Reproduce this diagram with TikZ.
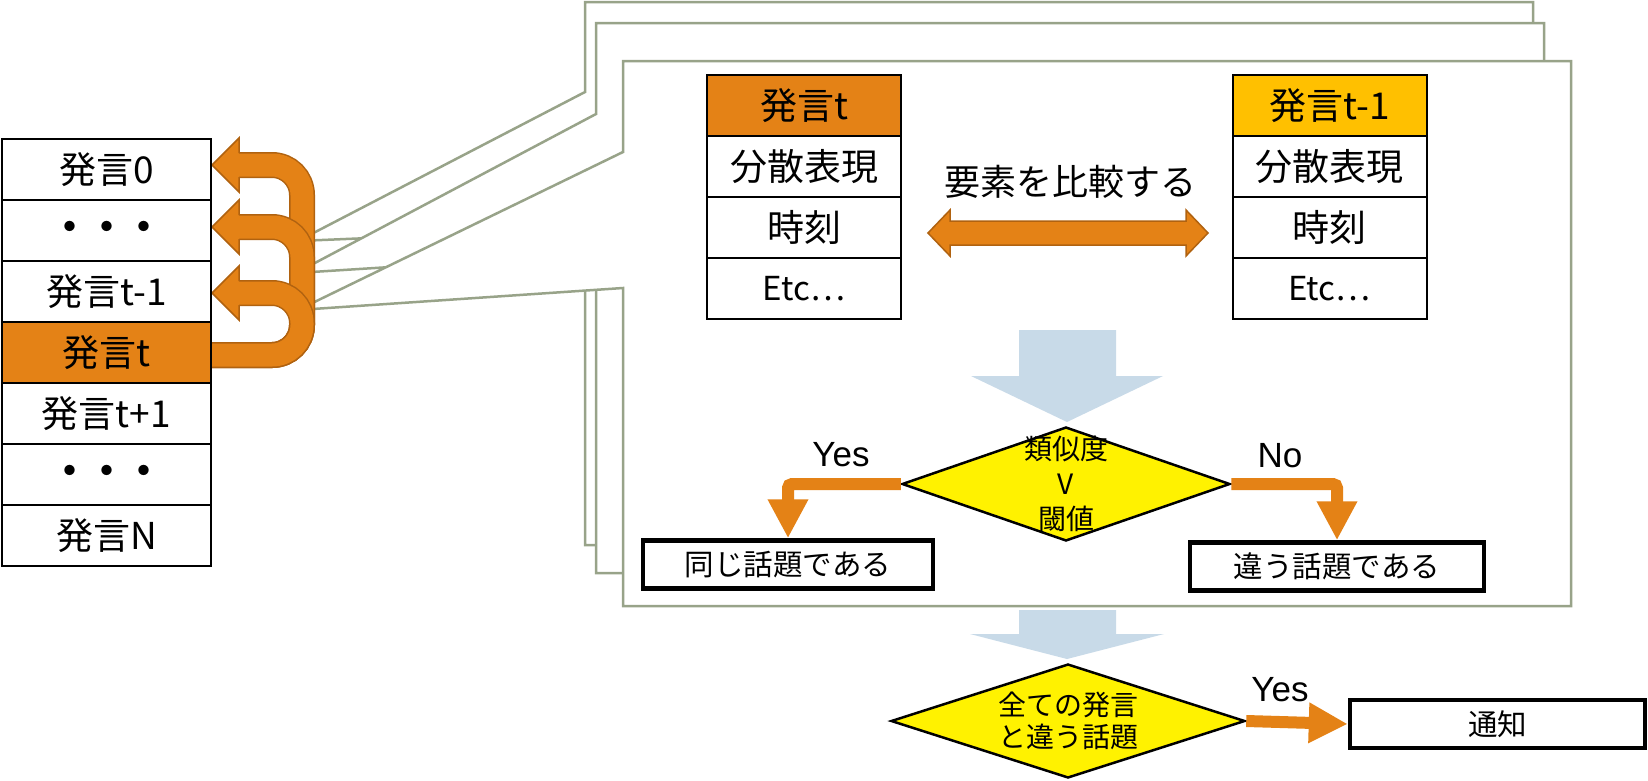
\documentclass[tikz,border=0pt]{standalone}
\usepackage{fontspec}
\usepackage{xcolor}
\usepackage{tikz}
\usetikzlibrary{arrows.meta, shapes.geometric}
\newfontfamily\gothic{Noto Sans CJK JP}
\newfontfamily\arialfont{Liberation Sans}
\definecolor{UttOrange}{RGB}{228,130,22}
\definecolor{UttOrangeDark}{RGB}{176,98,16}
\definecolor{UttGold}{RGB}{255,192,0}
\definecolor{FlowBlue}{RGB}{200,218,232}
\definecolor{FrameGreen}{RGB}{152,163,137}

\begin{document}
\begin{tikzpicture}[
    x=1pt, y=-1pt,
    cell/.style={rectangle, draw, line width=2pt, minimum width=209pt, minimum height=61pt, inner sep=0pt, font=\gothic\fontsize{37}{42}\selectfont},
    field/.style={cell, minimum width=194pt},
    zoomframe/.style={draw=FrameGreen, fill=white, line width=2.5pt, line join=miter},
    uturn/.style={draw=UttOrangeDark, line width=1.5pt, double=UttOrange, double distance=23pt, rounded corners=30pt},
    uhead/.style={draw=UttOrangeDark, fill=UttOrange, line width=1.5pt, line join=miter},
    decision/.style={diamond, draw, line width=2.5pt, fill=yellow, inner sep=0pt},
    result/.style={rectangle, draw, line width=4.5pt, inner sep=0pt, minimum height=48pt, font=\gothic\fontsize{29.5}{34}\selectfont},
    flowarrow/.style={draw=UttOrange, line width=12pt, rounded corners=4pt, -{Triangle[width=38pt, length=39pt]}},
    yesno/.style={font=\arialfont\fontsize{35}{40}\selectfont},
    bigarrow/.style={fill=FlowBlue}
]
    \useasboundingbox (0,0) rectangle (1648,780);
    % stacked frames, back to front
    \foreach \l/\t/\r/\b/\pa/\pb/\tx/\ty in {585/2/1533/545/92/229/298/241, 596/23/1544/573/114/254/296/273, 623/61/1571/606/152/288/298/310} {
        \draw[zoomframe] (\l,\t) -- (\r,\t) -- (\r,\b) -- (\l,\b) -- (\l,\pb) -- (\tx,\ty) -- (\l,\pa) -- cycle;
    }
    % U-turn arrows from the current utterance
    \foreach \y in {165, 227, 293} {
        \draw[uturn] (236,\y) -- (302,\y) -- (302,355) -- (211,355);
        \filldraw[uhead] (239,\y-12) -- (239,\y-27) -- (212,\y) -- (239,\y+27) -- (239,\y+12);
    }
    % utterance list
    \foreach \nm/\lbl/\clr [count=\i from 0] in {utt0/発言0/white, uttgap1/{\bfseries ・・・}/white, uttprev/発言t-1/white, uttcur/発言t/UttOrange, uttnext/発言t+1/white, uttgap2/{\bfseries ・・・}/white, uttN/発言N/white} {
        \node[cell, fill=\clr] (\nm) at (106.5,{169.5+61*\i}) {\lbl};
    }
    % compared records
    \foreach \nm/\lbl/\clr [count=\i from 0] in {curhead/発言t/UttOrange, curvec/分散表現/white, curtime/時刻/white, curetc/{\fontsize{33}{40}\selectfont Etc…}/white} {
        \node[field, fill=\clr] (\nm) at (804,{105.5+61*\i}) {\lbl};
    }
    \foreach \nm/\lbl/\clr [count=\i from 0] in {prevhead/発言t-1/UttGold, prevvec/分散表現/white, prevtime/時刻/white, prevetc/{\fontsize{33}{40}\selectfont Etc…}/white} {
        \node[field, fill=\clr] (\nm) at (1329.5,{105.5+61*\i}) {\lbl};
    }
    \filldraw[uhead] (928,233) -- (950,210) -- (950,221) -- (1186,221) -- (1186,210) -- (1208,233) -- (1186,256) -- (1186,245) -- (950,245) -- (950,256) -- cycle;
    \node[font=\gothic\fontsize{36}{40}\selectfont] (cmplabel) at (1070,182) {要素を比較する};
    \fill[bigarrow] (1019,330) -- (1116,330) -- (1116,376) -- (1163,376) -- (1067,422) -- (971,376) -- (1019,376) -- cycle;
    % threshold test
    \node[decision, minimum width=328pt, minimum height=114pt] (sim) at (1066,484) {};
    \node[font=\gothic\fontsize{28}{35}\selectfont, align=center] (simtext) at (sim) {類似度\\V\\閾値};
    \node[result, minimum width=290pt] (same) at (788,564.5) {同じ話題である};
    \node[result, minimum width=294pt] (diff) at (1337,566.5) {違う話題である};
    \draw[flowarrow] (sim.west) -| (same.north);
    \draw[flowarrow] (sim.east) -| (diff.north);
    \node[yesno] (yes1) at (841,455) {Yes};
    \node[yesno] (no1) at (1280,456) {No};
    \fill[bigarrow] (1019,610) -- (1116,610) -- (1116,634) -- (1164,634) -- (1067,659) -- (970,634) -- (1019,634) -- cycle;
    % final check
    \node[decision, minimum width=354pt, minimum height=114pt] (all) at (1068,721) {};
    \node[font=\gothic\fontsize{28}{32}\selectfont, align=center] (alltext) at (all) {全ての発言\\と違う話題};
    \node[result, minimum width=295pt] (notify) at (1497.5,724) {通知};
    \draw[flowarrow] (all.east) -- (notify.west);
    \node[yesno] (yes2) at (1280,690) {Yes};
\end{tikzpicture}
\end{document}
